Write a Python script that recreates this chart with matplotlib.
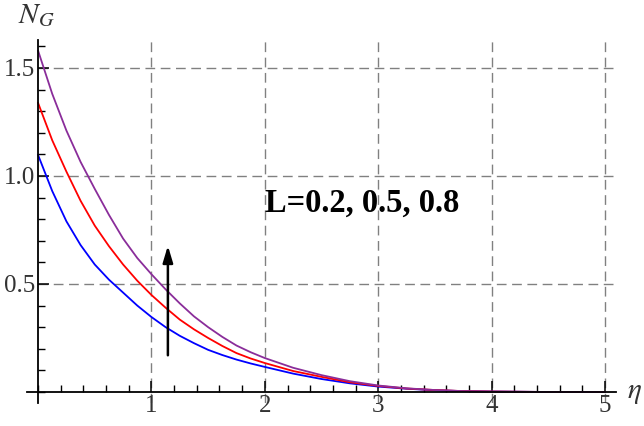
import numpy as np
import matplotlib
matplotlib.use("Agg")
import matplotlib.pyplot as plt
from matplotlib.ticker import MultipleLocator, FixedLocator

# values
eta = [0.0, 0.125, 0.25, 0.375, 0.5, 0.625, 0.75, 0.875, 1.0, 1.125, 1.25,
       1.375, 1.5, 1.625, 1.75, 1.875, 2.0, 2.25, 2.5, 2.75,
       3.0, 3.25, 3.5, 3.75, 4.0, 4.5, 5.0]
ng_L02 = [1.097, 0.93, 0.79, 0.68, 0.59, 0.52, 0.46, 0.40, 0.347, 0.30, 0.26,
          0.226, 0.195, 0.171, 0.15, 0.132, 0.116, 0.085, 0.06, 0.04,
          0.025, 0.015, 0.008, 0.004, 0.002, 0.0, 0.0]
ng_L05 = [1.338, 1.165, 1.02, 0.885, 0.77, 0.675, 0.59, 0.515, 0.449, 0.39, 0.335,
          0.29, 0.25, 0.213, 0.18, 0.155, 0.134, 0.097, 0.07, 0.045,
          0.028, 0.016, 0.009, 0.004, 0.002, 0.0, 0.0]
ng_L08 = [1.58, 1.38, 1.21, 1.065, 0.94, 0.82, 0.71, 0.62, 0.545, 0.475, 0.41,
          0.35, 0.30, 0.255, 0.215, 0.184, 0.157, 0.112, 0.078, 0.05,
          0.03, 0.017, 0.009, 0.004, 0.002, 0.0, 0.0]
colors = ["#0000ff", "#ff0000", "#8a2d9a"]
label_text = "L=0.2, 0.5, 0.8"
x_ticks = [1, 2, 3, 4, 5]
y_ticks = [0.5, 1.0, 1.5]

plt.rcParams["mathtext.fontset"] = "stix"

fig = plt.figure(figsize=(6.44, 4.26), dpi=100)
ax = fig.add_axes([0.0415, 0.0545, 0.9155, 0.852])

for ys, c in zip([ng_L02, ng_L05, ng_L08], colors):
    ax.plot(eta, ys, color=c, lw=1.3)

ax.set_xlim(-0.1, 5.1)
ax.set_ylim(-0.05, 1.63)

# mathematica style axes crossing at origin
ax.spines["left"].set_position(("data", 0))
ax.spines["bottom"].set_position(("data", 0))
ax.spines["top"].set_visible(False)
ax.spines["right"].set_visible(False)
for s in ["left", "bottom"]:
    ax.spines[s].set_linewidth(1.3)

ax.xaxis.set_major_locator(FixedLocator(x_ticks))
ax.yaxis.set_major_locator(FixedLocator(y_ticks))
ax.xaxis.set_minor_locator(MultipleLocator(0.2))
ax.yaxis.set_minor_locator(MultipleLocator(0.1))
ax.set_xticklabels([str(v) for v in x_ticks])
ax.set_yticklabels(["%.1f" % v for v in y_ticks])
ax.tick_params(which="major", direction="in", length=8, width=1.1,
               labelsize=18, labelcolor="#333333", pad=2)
ax.tick_params(which="minor", direction="in", length=5, width=1.0)
for lab in ax.get_xticklabels() + ax.get_yticklabels():
    lab.set_family("Liberation Serif")

# dashed grid lines start at the axes, like the reference
for xv in x_ticks:
    ax.plot([xv, xv], [-0.05, 1.63], color="#808080", lw=1.0, ls=(0, (7, 4)), zorder=0)
for yv in y_ticks:
    ax.plot([0, 5.1], [yv, yv], color="#808080", lw=1.0, ls=(0, (7, 4)), zorder=0)

ax.annotate("", xy=(1.145, 0.69), xytext=(1.145, 0.157),
            arrowprops=dict(arrowstyle="-|>,head_width=0.3,head_length=1.0",
                            color="black", lw=1.8))

ax.text(2.0, 0.875, label_text, fontsize=23.5, fontweight="bold",
        family="Liberation Serif", va="center", ha="left")

fig.text(36 / 644, 1 - 15 / 426, r"$N_G$", fontsize=21, ha="center",
         va="center", color="#333333")
fig.text(634 / 644, 1 - 392 / 426, r"$\eta$", fontsize=21, ha="center",
         va="center", color="#333333")

fig.savefig("out.png", dpi=100)
